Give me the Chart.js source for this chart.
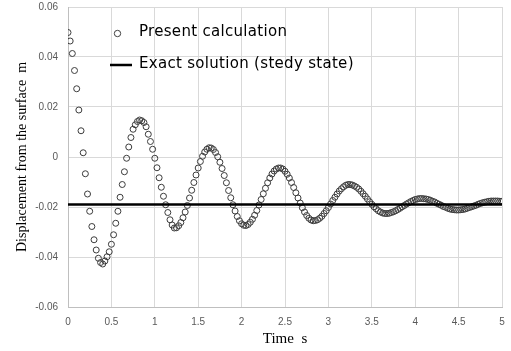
<!DOCTYPE html>
<html>
<head>
<meta charset="utf-8">
<script src="https://cdn.jsdelivr.net/npm/chart.js@4.4.1/dist/chart.umd.min.js"></script>
<style>
  html, body { margin: 0; padding: 0; background: #fff; }
  #wrap { width: 511px; height: 351px; position: relative; }
</style>
</head>
<body>
<div id="wrap"><canvas id="dispChart"></canvas></div>
<script>
// sampling interval of the computed series (s)
const timeStep = 0.025;

// displacement, one value per time step from 0 to 5 s (m)
const displacement = [
  0.0498, 0.0464, 0.0414, 0.0346, 0.0273, 0.0188, 0.0105, 0.0017, -0.0067, -0.0148,
  -0.0217, -0.0278, -0.0331, -0.0372, -0.0405, -0.0422, -0.0428, -0.0416, -0.0399, -0.0379,
  -0.0349, -0.0311, -0.0265, -0.0217, -0.0161, -0.0110, -0.0059, -0.0005, 0.0040, 0.0078,
  0.0111, 0.0129, 0.0142, 0.0148, 0.0145, 0.0138, 0.0121, 0.0091, 0.0062, 0.0031,
  -0.0005, -0.0043, -0.0083, -0.0121, -0.0157, -0.0191, -0.0222, -0.0251, -0.0272, -0.0284,
  -0.0283, -0.0275, -0.0262, -0.0243, -0.0220, -0.0194, -0.0164, -0.0133, -0.0102, -0.0072,
  -0.0044, -0.0018, 0.0003, 0.0020, 0.0031, 0.0037, 0.0036, 0.0030, 0.0018, 0.0001,
  -0.0021, -0.0046, -0.0074, -0.0103, -0.0134, -0.0163, -0.0191, -0.0216, -0.0238, -0.0255,
  -0.0267, -0.0273, -0.0274, -0.0270, -0.0261, -0.0249, -0.0233, -0.0214, -0.0192, -0.0170,
  -0.0147, -0.0125, -0.0103, -0.0084, -0.0068, -0.0056, -0.0048, -0.0044, -0.0044, -0.0048,
  -0.0057, -0.0069, -0.0084, -0.0102, -0.0122, -0.0143, -0.0164, -0.0184, -0.0203, -0.0220,
  -0.0234, -0.0245, -0.0252, -0.0255, -0.0254, -0.0251, -0.0245, -0.0237, -0.0226, -0.0215,
  -0.0202, -0.0188, -0.0174, -0.0161, -0.0148, -0.0136, -0.0127, -0.0119, -0.0113, -0.0110,
  -0.0110, -0.0112, -0.0116, -0.0121, -0.0128, -0.0137, -0.0147, -0.0157, -0.0168, -0.0179,
  -0.0189, -0.0199, -0.0207, -0.0215, -0.0220, -0.0224, -0.0226, -0.0226, -0.0225, -0.0222,
  -0.0219, -0.0215, -0.0210, -0.0205, -0.0199, -0.0194, -0.0188, -0.0183, -0.0178, -0.0174,
  -0.0170, -0.0168, -0.0166, -0.0166, -0.0167, -0.0168, -0.0170, -0.0173, -0.0177, -0.0180,
  -0.0185, -0.0189, -0.0193, -0.0198, -0.0201, -0.0205, -0.0208, -0.0210, -0.0211, -0.0212,
  -0.0212, -0.0211, -0.0210, -0.0208, -0.0205, -0.0202, -0.0199, -0.0196, -0.0193, -0.0189,
  -0.0186, -0.0183, -0.0181, -0.0179, -0.0177, -0.0176, -0.0176, -0.0176, -0.0176, -0.0177,
  -0.0177
];

// exact steady state solution
const steadyTimes = [0, 5];
const steadyDisplacement = [-0.019, -0.019];

// axis ticks
const xTicks = [0, 0.5, 1, 1.5, 2, 2.5, 3, 3.5, 4, 4.5, 5];
const yTicks = [-0.06, -0.04, -0.02, 0, 0.02, 0.04, 0.06];

const seriesLabels = ['Present calculation', 'Exact solution (stedy state)'];

document.addEventListener('DOMContentLoaded', () => {
    const ctx = document.getElementById('dispChart').getContext('2d');

    // legend drawn inside the plot, top left, like the original
    const insideLegend = {
        id: 'insideLegend',
        afterDraw(chart) {
            const c = chart.ctx;
            c.save();
            c.font = '15px "DejaVu Sans"';
            if ('letterSpacing' in c) c.letterSpacing = '0.3px';
            c.textBaseline = 'middle';
            c.fillStyle = '#000';

            // circle marker
            c.beginPath();
            c.arc(117.5, 33.5, 3.2, 0, Math.PI * 2);
            c.strokeStyle = '#404040';
            c.lineWidth = 1;
            c.stroke();
            c.fillText(seriesLabels[0], 139, 32);

            // line marker
            c.beginPath();
            c.moveTo(110, 65);
            c.lineTo(132, 65);
            c.strokeStyle = '#000';
            c.lineWidth = 2.5;
            c.stroke();
            c.fillText(seriesLabels[1], 139, 64);
            c.restore();
        }
    };

    new Chart(ctx, {
        type: 'scatter',
        data: {
            datasets: [
                {
                    type: 'line',
                    label: seriesLabels[1],
                    data: steadyTimes.map((t, i) => ({ x: t, y: steadyDisplacement[i] })),
                    borderColor: '#000',
                    borderWidth: 2.5,
                    pointRadius: 0,
                    fill: false,
                    order: 0
                },
                {
                    label: seriesLabels[0],
                    data: displacement.map((v, i) => ({ x: i * timeStep, y: v })),
                    showLine: false,
                    pointStyle: 'circle',
                    pointRadius: 3,
                    pointBorderWidth: 1,
                    pointBorderColor: '#3c3c3c',
                    pointBackgroundColor: 'rgba(255,255,255,0)',
                    order: 1
                }
            ]
        },
        options: {
            responsive: true,
            maintainAspectRatio: false,
            animation: false,
            layout: { autoPadding: false, padding: { left: 0, right: 9, top: 7, bottom: 0 } },
            plugins: {
                legend: { display: false },
                tooltip: { enabled: false }
            },
            scales: {
                x: {
                    type: 'linear',
                    min: 0,
                    max: 5,
                    afterBuildTicks: (scale) => { scale.ticks = xTicks.map(v => ({ value: v })); },
                    afterFit: (scale) => {
                        scale.height = 44;
                        scale.paddingLeft = 0;
                        scale.paddingRight = 0;
                    },
                    grid: { color: '#d9d9d9', drawTicks: false },
                    border: { color: '#bfbfbf' },
                    ticks: {
                        color: '#595959',
                        font: { family: 'Liberation Sans', size: 10 },
                        padding: 9,
                        maxRotation: 0,
                        callback: (v) => String(v)
                    },
                    title: {
                        display: true,
                        text: 'Time  s',
                        color: '#000',
                        font: { family: 'Liberation Serif', size: 15 },
                        padding: { top: 0, bottom: 3 }
                    }
                },
                y: {
                    type: 'linear',
                    min: -0.06,
                    max: 0.06,
                    afterBuildTicks: (scale) => { scale.ticks = yTicks.map(v => ({ value: v })); },
                    afterFit: (scale) => {
                        scale.width = 68;
                        scale.paddingTop = 0;
                        scale.paddingBottom = 0;
                    },
                    grid: { color: '#d9d9d9', drawTicks: false },
                    border: { color: '#bfbfbf' },
                    ticks: {
                        color: '#595959',
                        font: { family: 'Liberation Sans', size: 10 },
                        padding: 10,
                        callback: (v) => (Math.abs(v) < 1e-9 ? '0' : v.toFixed(2))
                    },
                    title: {
                        display: true,
                        text: 'Displacement from the surface  m',
                        color: '#000',
                        font: { family: 'Liberation Serif', size: 14 },
                        padding: { top: 14, bottom: 0 }
                    }
                }
            }
        },
        plugins: [insideLegend]
    });
});
</script>
</body>
</html>
